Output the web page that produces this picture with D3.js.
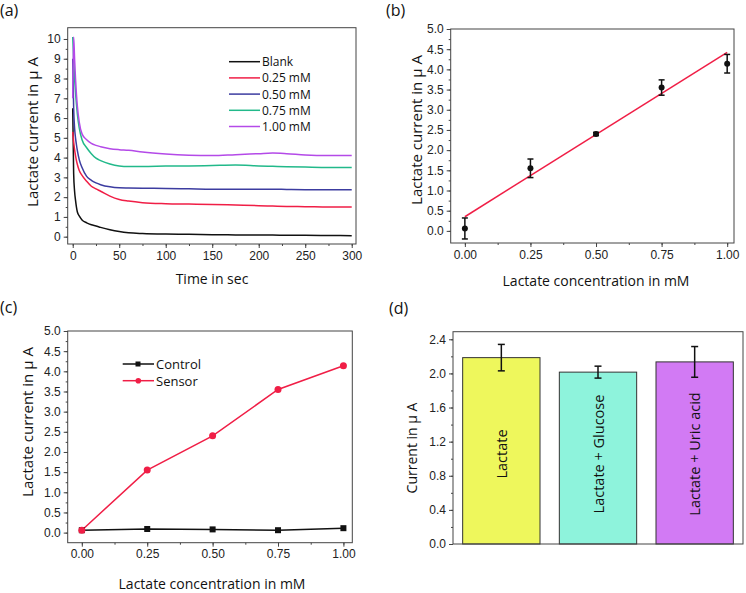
<!DOCTYPE html>
<html>
<head>
<meta charset="utf-8">
<script src="https://cdn.jsdelivr.net/npm/d3@7"></script>
<style>
  body { margin: 0; background: #fff; }
  svg { display: block; font-family: "Open Sans", "Noto Sans", sans-serif; }
  .tick text { font-size: 12px; fill: #222; }
</style>
</head>
<body>
<svg width="746" height="593"></svg>
<script>
const svg = d3.select("svg");

// Panel (a): chronoamperometry
const times = [0, 1, 2, 3, 4, 5, 7, 10, 15, 20, 25, 30, 40, 50, 60, 75, 100, 125, 150, 175, 200, 215, 230, 250, 275, 300];
const blank = [6.5, 3.2, 2.3, 1.85, 1.5, 1.25, 1.05, 0.85, 0.7, 0.6, 0.54, 0.47, 0.35, 0.26, 0.2, 0.16, 0.13, 0.12, 0.1, 0.09, 0.08, 0.08, 0.07, 0.07, 0.06, 0.05];
const mM025 = [5.3, 4.8, 4.4, 4.1, 3.85, 3.65, 3.35, 3.1, 2.8, 2.55, 2.42, 2.3, 2.05, 1.88, 1.8, 1.72, 1.67, 1.65, 1.63, 1.6, 1.57, 1.55, 1.53, 1.52, 1.5, 1.5];
const mM050 = [9.0, 6.5, 5.5, 5.0, 4.65, 4.35, 3.9, 3.5, 3.05, 2.85, 2.72, 2.63, 2.52, 2.47, 2.46, 2.45, 2.44, 2.42, 2.4, 2.4, 2.4, 2.4, 2.39, 2.38, 2.38, 2.38];
const mM075 = [10.1, 9.0, 8.0, 7.3, 6.7, 6.2, 5.5, 4.9, 4.5, 4.2, 3.97, 3.85, 3.68, 3.58, 3.55, 3.55, 3.57, 3.58, 3.6, 3.62, 3.58, 3.56, 3.54, 3.52, 3.5, 3.5];
const mM100 = [7.0, 10.1, 9.0, 8.0, 7.2, 6.6, 5.8, 5.2, 4.9, 4.72, 4.62, 4.55, 4.45, 4.4, 4.37, 4.28, 4.18, 4.12, 4.1, 4.15, 4.2, 4.23, 4.2, 4.13, 4.1, 4.1];
const seriesNames = ["Blank", "0.25 mM", "0.50 mM", "0.75 mM", "1.00 mM"];
const seriesColors = ["#111111", "#f01e46", "#3c3ca0", "#22b98a", "#b44ae8"];

// Panels (b) and (c): calibration
const conc = [0, 0.25, 0.5, 0.75, 1.0];
const sensor = [0.06, 1.55, 2.4, 3.55, 4.14];
const sensorErr = [0.26, 0.23, 0.04, 0.19, 0.23];
const control = [0.06, 0.09, 0.08, 0.06, 0.11];
const fitX = [0, 1.0];
const fitY = [0.35, 4.42];

// Panel (d): selectivity
const interferents = ["Lactate", "Lactate + Glucose", "Lactate + Uric acid"];
const interfValues = [2.185, 2.015, 2.135];
const interfErr = [0.155, 0.07, 0.18];
const barColors = ["#eef75c", "#8ef3dc", "#d27af4"];

const frameColor = "#444";

function frame(x, y) {
  const [x0, x1] = x.range(), [y0, y1] = y.range();
  svg.append("rect")
    .attr("x", x0).attr("y", y1)
    .attr("width", x1 - x0).attr("height", y0 - y1)
    .attr("fill", "none").attr("stroke", frameColor).attr("stroke-width", 1);
}

function axes(x, y, xMajor, xMinor, xFmt, yMajor, yMinor, yFmt) {
  const [x0] = x.range(), [y0] = y.range();
  const styleAxis = g => {
    g.select(".domain").remove();
    g.selectAll("line").attr("stroke", frameColor);
  };
  if (xMajor) {
    svg.append("g").attr("transform", `translate(0,${y0})`)
      .call(d3.axisBottom(x).tickValues(xMinor).tickSize(2).tickFormat(""))
      .call(styleAxis);
    svg.append("g").attr("transform", `translate(0,${y0})`)
      .call(d3.axisBottom(x).tickValues(xMajor).tickSize(4).tickPadding(3).tickFormat(xFmt))
      .call(styleAxis);
  }
  svg.append("g").attr("transform", `translate(${x0},0)`)
    .call(d3.axisLeft(y).tickValues(yMinor).tickSize(2).tickFormat(""))
    .call(styleAxis);
  svg.append("g").attr("transform", `translate(${x0},0)`)
    .call(d3.axisLeft(y).tickValues(yMajor).tickSize(4).tickPadding(3).tickFormat(yFmt))
    .call(styleAxis);
}

function title(text, x, y, rotate, size) {
  svg.append("text")
    .attr("transform", rotate ? `translate(${x},${y}) rotate(-90)` : `translate(${x},${y})`)
    .attr("text-anchor", "middle")
    .attr("dominant-baseline", "central")
    .style("font-size", (size || 14) + "px")
    .attr("fill", "#111")
    .text(text);
}

function panelLabel(text, x, y) {
  svg.append("text").attr("x", x).attr("y", y)
    .style("font-size", "16px").attr("fill", "#111").text(text);
}

const range = (a, b, s) => d3.range(a, b + s / 2, s);

// ---------- (a) ----------
{
  const x = d3.scaleLinear().domain([-5.4, 304.6]).range([67.7, 356]);
  const y = d3.scaleLinear().domain([-0.37, 10.57]).range([244, 27.7]);
  axes(x, y, range(0, 300, 50), range(0, 300, 25), d3.format("d"),
       range(0, 10, 1), range(0, 10, 0.5), d3.format("d"));

  const all = [blank, mM025, mM050, mM075, mM100];
  const line = d3.line().x((d, i) => x(times[i])).y(d => y(d)).curve(d3.curveMonotoneX);
  all.forEach((vals, k) => {
    svg.append("path").datum(vals)
      .attr("d", line)
      .attr("fill", "none")
      .attr("stroke", seriesColors[k])
      .attr("stroke-width", 1.5);
  });
  frame(x, y);

  const leg = svg.append("g");
  seriesNames.forEach((name, k) => {
    const ly = 61.7 + k * 16.2;
    leg.append("line").attr("x1", 229).attr("x2", 260).attr("y1", ly).attr("y2", ly)
      .attr("stroke", seriesColors[k]).attr("stroke-width", 1.5);
    leg.append("text").attr("x", 262).attr("y", ly).attr("dominant-baseline", "central")
      .style("font-size", "12px").attr("fill", "#111").text(name);
  });

  title("Lactate current in \u03bc A", 32, 132, true, 15);
  title("Time in sec", 212, 278);
  panelLabel("(a)", 0, 16);
}

// ---------- (b) ----------
{
  const x = d3.scaleLinear().domain([-0.054, 1.026]).range([450.7, 734]);
  const y = d3.scaleLinear().domain([-0.3, 5.0]).range([243, 29]);
  axes(x, y, range(0, 1, 0.25), range(0, 1, 0.125), d3.format(".2f"),
       range(0, 5, 0.5), range(0, 5, 0.25), d3.format(".1f"));

  svg.append("line")
    .attr("x1", x(fitX[0])).attr("y1", y(fitY[0]))
    .attr("x2", x(fitX[1])).attr("y2", y(fitY[1]))
    .attr("stroke", "#f01e46").attr("stroke-width", 1.5);

  const pts = conc.map((c, i) => ({ c, v: sensor[i], e: sensorErr[i] }));
  const eb = svg.append("g").attr("stroke", "#111").attr("stroke-width", 1.5);
  pts.forEach(d => {
    eb.append("line").attr("x1", x(d.c)).attr("x2", x(d.c)).attr("y1", y(d.v - d.e)).attr("y2", y(d.v + d.e));
    [d.v - d.e, d.v + d.e].forEach(v =>
      eb.append("line").attr("x1", x(d.c) - 3).attr("x2", x(d.c) + 3).attr("y1", y(v)).attr("y2", y(v)));
  });
  svg.selectAll(".bpt").data(pts).enter().append("circle")
    .attr("cx", d => x(d.c)).attr("cy", d => y(d.v)).attr("r", 3).attr("fill", "#111");
  frame(x, y);

  title("Lactate current in \u03bc A", 416, 130, true, 15);
  title("Lactate concentration in mM", 596, 280);
  panelLabel("(b)", 386, 16);
}

// ---------- (c) ----------
{
  const x = d3.scaleLinear().domain([-0.054, 1.034]).range([67.7, 352.3]);
  const y = d3.scaleLinear().domain([-0.25, 5.0]).range([542.7, 331]);
  axes(x, y, range(0, 1, 0.25), range(0, 1, 0.125), d3.format(".2f"),
       range(0, 5, 0.5), range(0, 5, 0.25), d3.format(".1f"));

  const line = d3.line().x((d, i) => x(conc[i])).y(d => y(d));
  svg.append("path").datum(control).attr("d", line)
    .attr("fill", "none").attr("stroke", "#111").attr("stroke-width", 1.5);
  svg.append("path").datum(sensor).attr("d", line)
    .attr("fill", "none").attr("stroke", "#f01e46").attr("stroke-width", 1.5);
  svg.selectAll(".cs").data(control).enter().append("rect")
    .attr("x", (d, i) => x(conc[i]) - 3).attr("y", d => y(d) - 3)
    .attr("width", 6).attr("height", 6).attr("fill", "#111");
  svg.selectAll(".cr").data(sensor).enter().append("circle")
    .attr("cx", (d, i) => x(conc[i])).attr("cy", d => y(d)).attr("r", 3.5).attr("fill", "#f01e46");
  frame(x, y);

  const leg = svg.append("g");
  [["Control", "#111", "square", 364], ["Sensor", "#f01e46", "circle", 380.7]].forEach(([name, col, shape, ly]) => {
    leg.append("line").attr("x1", 122.7).attr("x2", 154).attr("y1", ly).attr("y2", ly)
      .attr("stroke", col).attr("stroke-width", 1.5);
    if (shape === "square") {
      leg.append("rect").attr("x", 135.5).attr("y", ly - 2.5).attr("width", 5).attr("height", 5).attr("fill", col);
    } else {
      leg.append("circle").attr("cx", 138.3).attr("cy", ly).attr("r", 2.8).attr("fill", col);
    }
    leg.append("text").attr("x", 156).attr("y", ly).attr("dominant-baseline", "central")
      .style("font-size", "13px").attr("fill", "#111").text(name);
  });

  title("Lactate current in \u03bc A", 27, 422, true, 15);
  title("Lactate concentration in mM", 212, 583);
  panelLabel("(c)", 0, 313);
}

// ---------- (d) ----------
{
  const x = d3.scaleBand().domain(interferents).range([453, 743]).paddingInner(0.2).paddingOuter(0.1);
  const y = d3.scaleLinear().domain([0, 2.489]).range([544, 331.7]);

  svg.selectAll(".bar").data(interferents).enter().append("rect")
    .attr("x", d => x(d)).attr("y", (d, i) => y(interfValues[i]))
    .attr("width", x.bandwidth()).attr("height", (d, i) => y(0) - y(interfValues[i]))
    .attr("fill", (d, i) => barColors[i]).attr("stroke", "#333").attr("stroke-width", 1);

  const eb = svg.append("g").attr("stroke", "#111").attr("stroke-width", 1.5);
  interferents.forEach((d, i) => {
    const cx = x(d) + x.bandwidth() / 2;
    const lo = interfValues[i] - interfErr[i], hi = interfValues[i] + interfErr[i];
    eb.append("line").attr("x1", cx).attr("x2", cx).attr("y1", y(lo)).attr("y2", y(hi));
    [lo, hi].forEach(v => eb.append("line").attr("x1", cx - 3.5).attr("x2", cx + 3.5).attr("y1", y(v)).attr("y2", y(v)));
  });

  svg.selectAll(".blab").data(interferents).enter().append("text")
    .attr("transform", d => `translate(${x(d) + x.bandwidth() / 2},454) rotate(-90)`)
    .attr("text-anchor", "middle").attr("dominant-baseline", "central")
    .style("font-size", "14.5px").attr("fill", "#111").text(d => d);

  axes(x, y, null, null, null, range(0, 2.4, 0.4), range(0, 2.4, 0.2), d3.format(".1f"));
  svg.append("rect").attr("x", 453).attr("y", y.range()[1])
    .attr("width", 290).attr("height", y.range()[0] - y.range()[1])
    .attr("fill", "none").attr("stroke", frameColor);

  title("Current in \u03bc A", 411, 448, true, 14);
  panelLabel("(d)", 389, 314);
}
</script>
</body>
</html>
